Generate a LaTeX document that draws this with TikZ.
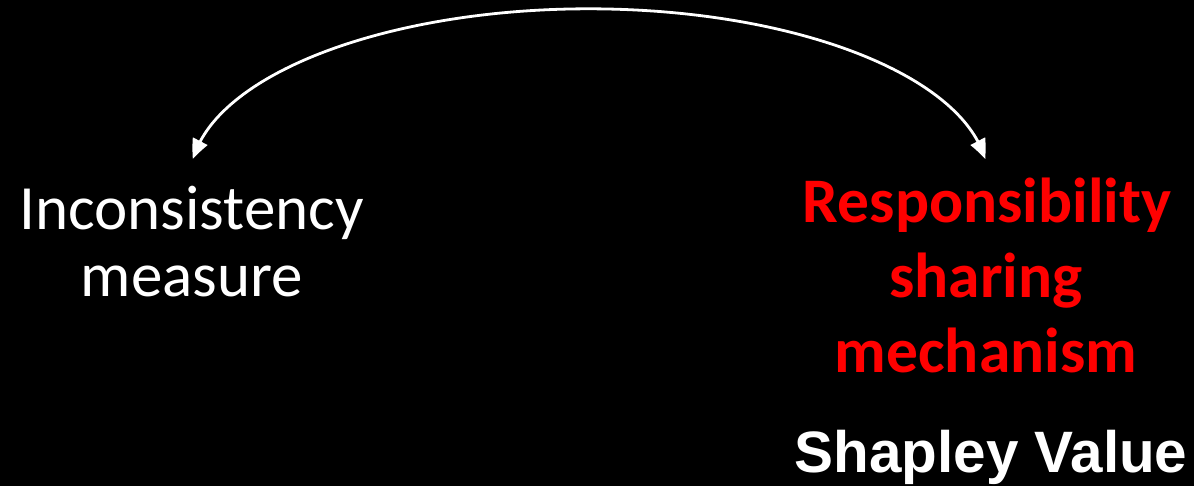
\documentclass[tikz,border=0pt]{standalone}
\usepackage{fontspec}
\setmainfont{Carlito}
\newfontfamily\arialfont{Liberation Sans}
\usetikzlibrary{arrows.meta,bending}
\begin{document}
\begin{tikzpicture}[x=1pt,y=1pt,
  lbl/.style={text=white,font=\fontsize{63}{67}\selectfont,inner sep=0pt,anchor=base},
  redlbl/.style={text=red,font=\fontsize{63.5}{75}\selectfont\bfseries,inner sep=0pt,anchor=base},
  shaplbl/.style={text=white,font=\arialfont\fontsize{58.4}{64}\selectfont\bfseries,inner sep=0pt,anchor=base},
  conn/.style={draw=white,line width=2.8pt,{Triangle[length=19pt,width=16pt,bend]}-{Triangle[length=19pt,width=16pt,bend]}}
]
\fill[black] (0,0) rectangle (1194,486);
\useasboundingbox (0,0) rectangle (1194,486);
\node[lbl] (inc) at (191.5,256) {Inconsistency};
\node[lbl] (mea) at (192,189) {measure};
\node[redlbl] (resp) at (987,263) {Responsibility};
\node[redlbl] (shar) at (986,188) {sharing};
\node[redlbl] (mech) at (986,113) {mechanism};
\node[shaplbl] (shap) at (991,13) {Shapley Value};
\coordinate (ltip) at (193,327);
\coordinate (rtip) at (985,327);
\draw[conn] (ltip) arc[start angle=173,end angle=7,x radius=399pt,y radius=171pt];
\end{tikzpicture}
\end{document}
